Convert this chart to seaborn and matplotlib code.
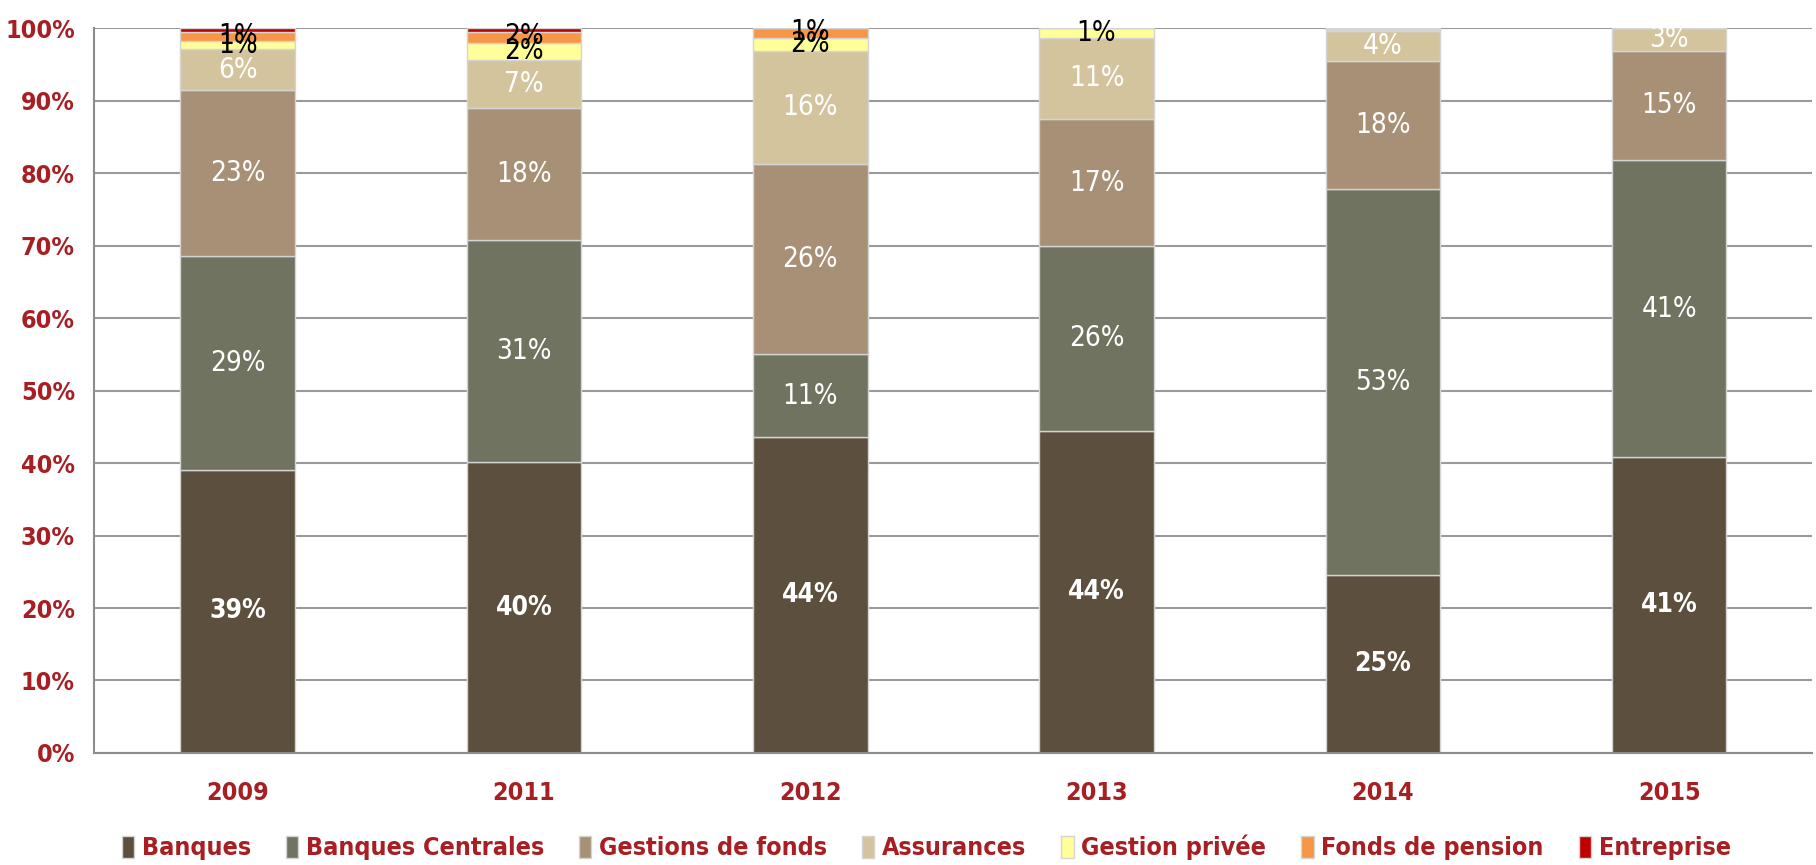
import matplotlib
matplotlib.use("Agg")
import matplotlib.pyplot as plt
import seaborn as sns
import numpy as np
import pandas as pd
from matplotlib.ticker import PercentFormatter, FixedLocator

# === Data (share of holders, in %) ===
years = ["2009", "2011", "2012", "2013", "2014", "2015"]
series_names = ["Banques", "Banques Centrales", "Gestions de fonds", "Assurances",
                "Gestion privée", "Fonds de pension", "Entreprise"]
banques = [39.1, 40.1, 43.6, 44.4, 24.5, 40.8]
banques_centrales = [29.4, 30.7, 11.4, 25.6, 53.3, 41.0]
gestion_fonds = [22.9, 18.2, 26.3, 17.4, 17.6, 15.1]
assurances = [5.7, 6.6, 15.5, 11.3, 4.2, 3.1]
gestion_privee = [1.1, 2.4, 1.9, 1.3, 0.2, 0.0]
fonds_pension = [1.3, 1.5, 1.3, 0.0, 0.1, 0.0]
entreprise = [0.5, 0.5, 0.0, 0.0, 0.1, 0.0]

# printed data labels
lbl_banques = ["39%", "40%", "44%", "44%", "25%", "41%"]
lbl_bc = ["29%", "31%", "11%", "26%", "53%", "41%"]
lbl_gf = ["23%", "18%", "26%", "17%", "18%", "15%"]
lbl_ass = ["6%", "7%", "16%", "11%", "4%", "3%"]
lbl_gp = ["1%", "2%", "2%", "1%", "", ""]
lbl_fp = ["1%", "2%", "1%", "", "", ""]

colors = ["#5C4F3E", "#6F7360", "#A89076", "#D3C49D", "#FFFF99", "#F79646", "#C00000"]
RED = "#A71E23"
FS = 18       # bold texts (ticks, legend, Banques labels)
FS_LBL = 20   # regular data labels

values = [banques, banques_centrales, gestion_fonds, assurances,
          gestion_privee, fonds_pension, entreprise]

sns.set_style("white")
plt.rcParams["font.family"] = ["DejaVu Sans"]
plt.rcParams["font.stretch"] = "condensed"

fig = plt.figure(figsize=(18.16, 8.65), dpi=100)
ax = fig.add_axes([0.052, 0.1295, 0.946, 0.838])

# stacked bars, one series at a time
bottom = np.zeros(len(years))
for name, vals, col in zip(series_names, values, colors):
    df = pd.DataFrame({"year": years, "val": vals})
    sns.barplot(data=df, x="year", y="val", bottom=bottom, color=col, width=0.4,
                label=name, edgecolor="#D4D4D4", linewidth=1.0, saturation=1, ax=ax)
    bottom = bottom + np.array(vals)

cont = ax.containers
ax.bar_label(cont[0], labels=lbl_banques, label_type="center", color="white",
             fontsize=FS + 1, fontweight="bold")
ax.bar_label(cont[1], labels=lbl_bc, label_type="center", color="white", fontsize=FS_LBL)
ax.bar_label(cont[2], labels=lbl_gf, label_type="center", color="white", fontsize=FS_LBL)
ax.bar_label(cont[3], labels=lbl_ass, label_type="center", color="white", fontsize=FS_LBL)
ax.bar_label(cont[4], labels=lbl_gp, label_type="center", color="black", fontsize=FS_LBL)
ax.bar_label(cont[5], labels=lbl_fp, label_type="edge", padding=-13, color="black",
             fontsize=FS_LBL)

ax.set_xlim(-0.5, len(years) - 0.5)
ax.set_ylim(0, 100)
ax.set_yticks(np.arange(0, 101, 10))
ax.yaxis.set_major_formatter(PercentFormatter(decimals=0))
ax.yaxis.grid(True, color="#9A9A9A", linewidth=1.5)
ax.set_axisbelow(True)
ax.set_xlabel("")
ax.set_ylabel("")

for s in ["top", "right"]:
    ax.spines[s].set_visible(False)
for s in ["left", "bottom"]:
    ax.spines[s].set_color("#8C8C8C")
    ax.spines[s].set_linewidth(1.5)

ax.xaxis.set_minor_locator(FixedLocator(np.arange(-0.5, len(years), 1)))
ax.tick_params(axis="x", which="major", length=0, pad=20, labelsize=FS, labelcolor=RED)
ax.tick_params(axis="x", which="minor", length=8, width=1.3, color="#8C8C8C", direction="out")
ax.tick_params(axis="y", length=8, width=1.3, color="#8C8C8C", direction="out",
               labelsize=FS, labelcolor=RED, pad=6)
for t in ax.get_xticklabels() + ax.get_yticklabels():
    t.set_fontweight("bold")

handles, labels = ax.get_legend_handles_labels()
if ax.legend_ is not None:
    ax.legend_.remove()
leg = fig.legend(handles, labels, loc="center", bbox_to_anchor=(0.51, 0.02), ncol=7,
                 frameon=False, handlelength=0.5, handleheight=1.0, handletextpad=0.3,
                 columnspacing=1.4, fontsize=FS)
for t in leg.get_texts():
    t.set_color(RED)
    t.set_fontweight("bold")

fig.savefig("out.png", dpi=100)
